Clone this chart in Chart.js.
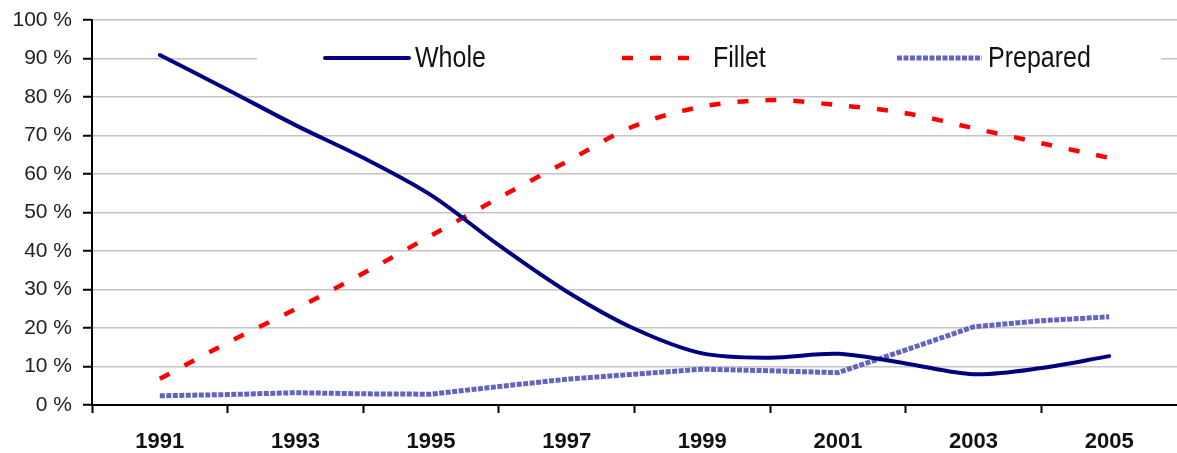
<!DOCTYPE html>
<html>
<head>
<meta charset="utf-8">
<script src="https://cdn.jsdelivr.net/npm/chart.js@4.4.0/dist/chart.umd.min.js"></script>
<style>
  html, body { margin: 0; padding: 0; background: #fff; }
  #wrap { width: 1177px; height: 453px; }
</style>
</head>
<body>
<div id="wrap"><canvas id="chart" width="1177" height="453"></canvas></div>
<script>
// values (share of total, %)
const years    = [1991, 1992, 1993, 1994, 1995, 1996, 1997, 1998, 1999, 2000, 2001, 2002, 2003, 2004, 2005];
const whole    = [90.9, 81.9, 72.7, 64.2, 54.5, 41.5, 29.5, 19.8, 13.4, 12.3, 13.3, 10.8, 8.0, 9.6, 12.7];
const fillet   = [6.8, 16.2, 24.9, 34.2, 44.0, 53.8, 63.2, 72.5, 77.5, 79.2, 77.9, 75.8, 71.9, 68.0, 64.2];
const prepared = [2.4, 2.7, 3.2, 2.9, 2.8, 4.8, 6.7, 8.0, 9.3, 8.9, 8.4, 14.3, 20.3, 21.9, 22.9];
const seriesNames = ['Whole', 'Fillet', 'Prepared'];
const yMin = 0, yMax = 100, yStep = 10;
const xMin = 1990, xMax = 2006;

const FONT = '"Liberation Sans", Arial, sans-serif';
const pts = arr => arr.map((v, i) => ({ x: years[i], y: v }));

// legend sits inside the plot, on a white strip over the 90 % gridline
const insideLegend = {
  id: 'insideLegend',
  beforeDatasetsDraw(chart, args, opts) {
    const ctx = chart.ctx;
    ctx.save();
    ctx.fillStyle = '#fff';
    ctx.fillRect(opts.box.x, opts.box.y, opts.box.w, opts.box.h);
    chart.data.datasets.forEach((ds, i) => {
      const it = opts.items[i];
      ctx.beginPath();
      ctx.strokeStyle = ds.borderColor;
      ctx.lineWidth = ds.borderWidth;
      ctx.lineCap = ds.borderCapStyle || 'butt';
      ctx.setLineDash(ds.borderDash || []);
      ctx.moveTo(it.x0, opts.y);
      ctx.lineTo(it.x1, opts.y);
      ctx.stroke();
      ctx.setLineDash([]);
      ctx.save();
      ctx.translate(it.tx, opts.y + 1);
      ctx.scale(1, 1.15);
      ctx.fillStyle = '#111';
      ctx.font = '25px ' + FONT;
      ctx.textBaseline = 'middle';
      ctx.fillText(ds.label, 0, 0);
      ctx.restore();
    });
    ctx.restore();
  }
};

new Chart(document.getElementById('chart'), {
  type: 'line',
  data: {
    datasets: [
      { label: seriesNames[0], data: pts(whole), borderColor: '#000080', borderWidth: 4,
        borderCapStyle: 'round', borderJoinStyle: 'round', tension: 0.33, pointRadius: 0 },
      { label: seriesNames[1], data: pts(fillet), borderColor: '#ff0000', borderWidth: 4.5,
        borderDash: [11, 17], tension: 0.33, pointRadius: 0 },
      { label: seriesNames[2], data: pts(prepared), borderColor: '#6464c0', borderWidth: 5,
        borderDash: [5, 1.5], tension: 0, pointRadius: 0 }
    ]
  },
  options: {
    responsive: false,
    animation: false,
    layout: { padding: { top: 20, left: 12, right: 0, bottom: 0 } },
    plugins: {
      legend: { display: false },
      tooltip: { enabled: false },
      insideLegend: {
        box: { x: 257, y: 38, w: 904, h: 40 },
        y: 58,
        items: [
          { x0: 325, x1: 409, tx: 415 },
          { x0: 622, x1: 690, tx: 713 },
          { x0: 897, x1: 982, tx: 988 }
        ]
      }
    },
    scales: {
      x: {
        type: 'linear', min: xMin, max: xMax,
        afterFit: s => { s.height = 48; s.paddingLeft = 0; s.paddingRight = 0; },
        ticks: {
          stepSize: 1, maxTicksLimit: 20, autoSkip: false, maxRotation: 0,
          callback: v => (v % 2 ? String(v) : ''),
          font: { family: FONT, size: 22, weight: 'bold' }, color: '#111', padding: 16
        },
        grid: {
          drawOnChartArea: false, tickLength: 8, tickWidth: 2,
          tickColor: c => (c.tick && c.tick.value % 2 === 0 && c.tick.value < xMax ? '#000' : 'rgba(0,0,0,0)')
        },
        border: { color: '#000', width: 2 }
      },
      y: {
        min: yMin, max: yMax,
        afterFit: s => { s.width = 80; s.paddingTop = 0; s.paddingBottom = 0; },
        ticks: {
          stepSize: yStep, callback: v => v + ' %',
          font: { family: FONT, size: 21 }, color: '#222', padding: 11
        },
        grid: { color: '#c4c4c4', lineWidth: 1.5, tickColor: '#000', tickLength: 9, tickWidth: 2 },
        border: { color: '#000', width: 2 }
      }
    }
  },
  plugins: [insideLegend]
});
</script>
</body>
</html>
